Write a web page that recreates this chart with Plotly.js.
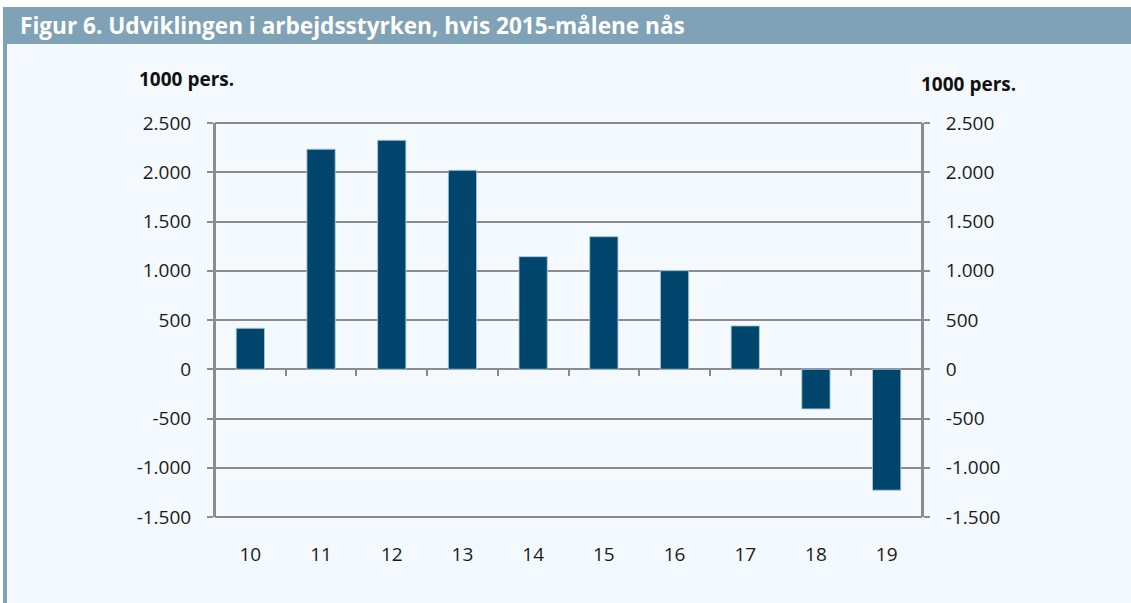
<!DOCTYPE html>
<html>
<head>
<meta charset="utf-8">
<script src="https://cdn.plot.ly/plotly-3.0.1.min.js"></script>
<style>html,body{margin:0;padding:0;background:#fff;}#chart{width:1131px;height:603px;}</style>
</head>
<body>
<div id="chart"></div>
<script>
// Data
const categories = ['10','11','12','13','14','15','16','17','18','19'];
const values = [416, 2234, 2325, 2020, 1143, 1346, 1001, 440, -403, -1228];
const yTickVals = [-1500, -1000, -500, 0, 500, 1000, 1500, 2000, 2500];
const yTickText = ['-1.500', '-1.000', '-500', '0', '500', '1.000', '1.500', '2.000', '2.500'];
const titleText = 'Figur 6. Udviklingen i arbejdsstyrken, hvis 2015-målene nås';
const unitLabel = '1000 pers.';

// Layout geometry (pixels)
const W = 1131, H = 603;
const PL = 215, PR = 922, PT = 123, PB = 517;
const px = v => (v - PL) / (PR - PL);
const py = v => (PB - v) / (PB - PT);

const barColor = '#00456b';
const gridColor = '#8c8c8c';
const frameColor = '#7fa2b7';
const bgColor = '#f4f9fd';
const textFont = {family: 'Open Sans, Lato, sans-serif', size: 19, color: '#1a1a1a'};

const boundaries = categories.slice(0, -1).map((c, i) => i + 0.5);

const trace = {
  type: 'bar',
  x: categories,
  y: values,
  marker: {color: barColor, line: {color: 'rgba(170,200,220,0.9)', width: 1}},
  hoverinfo: 'x+y'
};

// invisible helper trace so the secondary axes (right y axis, zero-line ticks) are drawn
const helper = {
  type: 'scatter', mode: 'markers',
  x: [boundaries[0]], y: [0],
  xaxis: 'x2', yaxis: 'y2',
  marker: {opacity: 0, size: 1},
  hoverinfo: 'skip', showlegend: false
};

const vLine = x => ({type: 'line', xref: 'paper', yref: 'paper', layer: 'above',
  x0: x, x1: x, y0: 0, y1: 1, line: {color: gridColor, width: 2}});
const hLine = y => ({type: 'line', xref: 'paper', yref: 'paper', layer: 'below',
  x0: 0, x1: 1, y0: y, y1: y, line: {color: gridColor, width: 2}});

const layout = {
  width: W, height: H,
  margin: {l: PL, r: W - PR, t: PT, b: H - PB, pad: 0},
  paper_bgcolor: '#ffffff',
  plot_bgcolor: 'rgba(0,0,0,0)',
  showlegend: false,
  bargap: 0.6,
  title: {
    text: titleText,
    x: 20 / W, xanchor: 'left', xref: 'container',
    y: 1 - 26 / H, yanchor: 'middle', yref: 'container',
    font: {family: 'Open Sans, sans-serif', size: 22.6, weight: 700, color: '#ffffff'}
  },
  xaxis: {
    type: 'category',
    showgrid: false, zeroline: false, showline: false,
    ticks: '', tickfont: textFont,
    ticklabelstandoff: 24
  },
  xaxis2: {
    overlaying: 'x', anchor: 'free', position: py(369.3), side: 'bottom',
    range: [-0.5, categories.length - 0.5],
    tickmode: 'array', tickvals: boundaries,
    ticks: 'outside', ticklen: 6, tickwidth: 2, tickcolor: gridColor,
    showticklabels: false, showgrid: false, zeroline: false, showline: false
  },
  yaxis: {
    range: [-1500, 2500],
    tickmode: 'array', tickvals: yTickVals, ticktext: yTickText,
    showgrid: true, gridcolor: gridColor, gridwidth: 2,
    zeroline: false,
    showline: true, linecolor: gridColor, linewidth: 2,
    ticks: 'outside', ticklen: 6, tickwidth: 2, tickcolor: gridColor,
    tickfont: textFont, ticklabelstandoff: 12
  },
  yaxis2: {
    overlaying: 'y', side: 'right', anchor: 'x2',
    range: [-1500, 2500],
    tickmode: 'array', tickvals: yTickVals, ticktext: yTickText,
    showgrid: false, zeroline: false,
    showline: true, linecolor: gridColor, linewidth: 2,
    ticks: 'outside', ticklen: 6, tickwidth: 2, tickcolor: gridColor,
    tickfont: textFont, ticklabelstandoff: 12
  },
  shapes: [
    {type: 'rect', xref: 'paper', yref: 'paper', layer: 'below', line: {width: 0},
     x0: px(7), x1: px(W + 5), y0: py(44), y1: py(H + 5), fillcolor: bgColor},
    {type: 'rect', xref: 'paper', yref: 'paper', layer: 'below', line: {width: 0},
     x0: px(3), x1: px(W + 5), y0: py(7), y1: py(44), fillcolor: frameColor},
    {type: 'rect', xref: 'paper', yref: 'paper', layer: 'below', line: {width: 0},
     x0: px(3), x1: px(7), y0: py(44), y1: py(H + 5), fillcolor: frameColor},
    hLine(0),
    hLine(1),
    vLine(0),
    vLine(1)
  ],
  annotations: [
    {text: '<b>' + unitLabel + '</b>', xref: 'paper', yref: 'paper', showarrow: false,
     x: px(137), xanchor: 'left', y: py(79), yanchor: 'middle',
     font: {family: 'Open Sans, Lato, sans-serif', size: 19, color: '#111'}},
    {text: '<b>' + unitLabel + '</b>', xref: 'paper', yref: 'paper', showarrow: false,
     x: px(919), xanchor: 'left', y: py(84), yanchor: 'middle',
     font: {family: 'Open Sans, Lato, sans-serif', size: 19, color: '#111'}}
  ]
};

Plotly.newPlot('chart', [trace, helper], layout, {displayModeBar: false, staticPlot: true});
</script>
</body>
</html>
